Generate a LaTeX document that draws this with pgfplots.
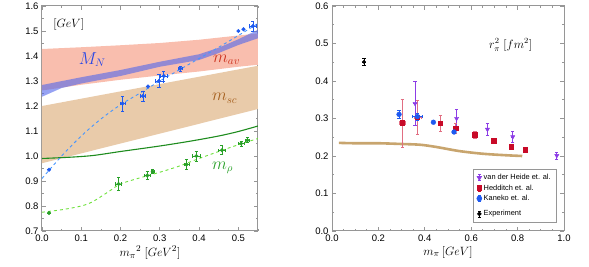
\documentclass[border=0pt]{standalone}
\usepackage{pgfplots}
\pgfplotsset{compat=1.18}
\usepackage{fontspec}
\setmainfont{Liberation Sans}
\definecolor{frame}{RGB}{150,150,150}
\definecolor{pinkband}{RGB}{249,190,174}
\definecolor{tanband}{RGB}{233,203,170}
\definecolor{nband}{RGB}{85,105,235}
\definecolor{gline}{RGB}{30,140,30}
\definecolor{gdash}{RGB}{110,225,60}
\definecolor{gpt}{RGB}{40,160,40}
\definecolor{bdash}{RGB}{70,150,255}
\definecolor{bpt}{RGB}{30,90,240}
\definecolor{mavc}{RGB}{205,50,30}
\definecolor{mscc}{RGB}{165,95,30}
\definecolor{mnc}{RGB}{40,70,230}
\definecolor{tancurve}{RGB}{200,165,110}
\definecolor{purp}{RGB}{140,60,230}
\definecolor{redp}{RGB}{200,10,40}
\definecolor{redbar}{RGB}{225,110,130}
\pgfplotsset{
  mstyle/.style={
    scale only axis,
    axis line style={frame, line width=1pt},
    tick style={frame, line width=0.8pt},
    tick align=inside,
    tick pos=both,
    major tick length=4pt,
    minor tick length=2.2pt,
    tick label style={font=\fontsize{9.5}{10}\selectfont},
    /pgf/number format/assume math mode=true,
    /pgf/number format/fixed,
    /pgf/number format/fixed zerofill,
    /pgf/number format/precision=1,
    clip=true,
  },
  ebar/.style={error bars/.cd, y dir=both, y explicit, x dir=both, x explicit,
     error mark options={rotate=90, mark size=1.6pt, line width=0.6pt},
     error bar style={line width=0.7pt}, /pgfplots/.cd},
}
\begin{document}
\begin{tikzpicture}[x=1pt,y=1pt]
\useasboundingbox (0,0) rectangle (589,267);
% ---------------- left axis ----------------
\begin{axis}[mstyle,
  at={(42pt,36pt)}, anchor=south west,
  width=216pt, height=225pt,
  xmin=0, xmax=0.55, ymin=0.7, ymax=1.6,
  xtick={0,0.1,0.2,0.3,0.4,0.5},
  minor xtick={0.05,0.15,0.25,0.35,0.45,0.55},
  ytick={0.7,0.8,0.9,1.0,1.1,1.2,1.3,1.4,1.5,1.6},
  minor ytick={0.75,0.85,0.95,1.05,1.15,1.25,1.35,1.45,1.55},
  xlabel={$m_\pi{}^2\;[GeV^2]$},
  xlabel style={font=\fontsize{12.5}{14}\selectfont, yshift=2pt},
]
% m_av band
\addplot[draw=none, fill=pinkband] coordinates {
 (0,1.428)(0.1,1.435)(0.2,1.443)(0.3,1.452)(0.4,1.465)(0.5,1.482)(0.55,1.490)
 (0.55,1.365)(0.5,1.357)(0.4,1.338)(0.3,1.322)(0.2,1.305)(0.1,1.285)(0,1.262)} -- cycle;
% m_sc band
\addplot[draw=none, fill=tanband] coordinates {
 (0,1.200)(0.55,1.361)(0.55,1.188)(0,0.971)} -- cycle;
% M_N band
\addplot[draw=none, fill=nband, fill opacity=0.62] coordinates {
 (0,1.284)(0.1,1.315)(0.2,1.344)(0.3,1.377)(0.4,1.407)(0.45,1.433)(0.5,1.467)(0.55,1.505)
 (0.55,1.471)(0.5,1.444)(0.45,1.412)(0.4,1.384)(0.3,1.357)(0.2,1.320)(0.1,1.290)(0.05,1.272)(0,1.237)} -- cycle;
% green solid line
\addplot[gline, line width=1.1pt, smooth] coordinates {
 (0,0.990)(0.07,0.995)(0.13,1.002)(0.2,1.018)(0.3,1.040)(0.38,1.060)(0.45,1.080)(0.5,1.098)(0.55,1.120)};
% blue dashed line
\addplot[bdash, dashed, line width=0.9pt, smooth] coordinates {
 (0,0.910)(0.05,1.000)(0.1,1.080)(0.15,1.148)(0.2,1.205)(0.25,1.252)(0.3,1.300)(0.35,1.345)(0.4,1.390)(0.45,1.435)(0.5,1.482)(0.55,1.530)};
% green dashed line
\addplot[gdash, dashed, line width=0.9pt, smooth] coordinates {
 (0,0.775)(0.05,0.785)(0.1,0.800)(0.13,0.818)(0.17,0.858)(0.2,0.888)(0.25,0.913)(0.3,0.935)(0.35,0.960)(0.4,0.990)(0.45,1.018)(0.5,1.045)(0.55,1.070)};
% blue points
\addplot[only marks, mark=*, mark size=1.8pt, color=bpt, ebar] coordinates {
 (0.018,0.945) +- (0,0)
 (0.205,1.210) +- (0.006,0.030)
 (0.257,1.240) +- (0.006,0.020)
 (0.270,1.278) +- (0,0)
 (0.298,1.300) +- (0.010,0.025)
 (0.310,1.320) +- (0.010,0.020)
 (0.352,1.350) +- (0.006,0.010)
 (0.500,1.500) +- (0,0)
 (0.513,1.507) +- (0,0)
 (0.537,1.520) +- (0.008,0.020)};
% green points
\addplot[only marks, mark=*, mark size=1.8pt, color=gpt, ebar] coordinates {
 (0.018,0.772) +- (0,0)
 (0.195,0.888) +- (0.008,0.025)
 (0.268,0.922) +- (0.008,0.015)
 (0.282,0.937) +- (0.004,0.008)
 (0.368,0.966) +- (0.006,0.020)
 (0.393,1.000) +- (0.010,0.020)
 (0.458,1.023) +- (0.010,0.018)
 (0.507,1.050) +- (0.008,0.010)
 (0.523,1.063) +- (0.006,0.010)};
\node[font=\fontsize{11.5}{13}\selectfont] at (axis cs:0.068,1.525) {$[GeV]$};
\node[text=mnc, font=\fontsize{16}{18}\selectfont] at (axis cs:0.128,1.385) {$M_N$};
\node[text=mavc, font=\fontsize{16}{18}\selectfont] at (axis cs:0.47,1.385) {$m_{av}$};
\node[text=mscc, font=\fontsize{16}{18}\selectfont] at (axis cs:0.465,1.232) {$m_{sc}$};
\node[text=gpt, font=\fontsize{16}{18}\selectfont] at (axis cs:0.46,0.952) {$m_\rho$};
\end{axis}
% ---------------- right axis ----------------
\begin{axis}[mstyle,
  at={(332pt,36pt)}, anchor=south west,
  width=232pt, height=225pt,
  xmin=0, xmax=1, ymin=0, ymax=0.6,
  xtick={0,0.2,0.4,0.6,0.8,1.0},
  minor xtick={0.05,0.1,0.15,0.25,0.3,0.35,0.45,0.5,0.55,0.65,0.7,0.75,0.85,0.9,0.95},
  ytick={0,0.1,0.2,0.3,0.4,0.5,0.6},
  minor ytick={0.05,0.15,0.25,0.35,0.45,0.55},
  xlabel={$m_\pi\,[GeV]$},
  xlabel style={font=\fontsize{12.5}{14}\selectfont, yshift=2pt},
  legend style={at={(0.97,0.037)}, anchor=south east, draw=frame, line width=0.8pt,
     font=\fontsize{7.4}{8.5}\selectfont, row sep=-0.5pt, inner xsep=4pt, inner ysep=3pt,
     cells={anchor=west}},
  legend cell align=left,
  legend image code/.code={
     \draw[#1,mark=none,line width=0.6pt] (0pt,-3pt)--(0pt,3pt);
     \draw[#1,mark=none,line width=0.6pt] (-1.3pt,3pt)--(1.3pt,3pt);
     \draw[#1,mark=none,line width=0.6pt] (-1.3pt,-3pt)--(1.3pt,-3pt);
     \draw[#1,only marks] plot coordinates {(0pt,0pt)};},
]
\addplot[tancurve, line width=2.6pt, smooth, forget plot] coordinates {
 (0.03,0.235)(0.1,0.234)(0.2,0.234)(0.3,0.232)(0.38,0.230)(0.45,0.224)(0.55,0.213)(0.65,0.206)(0.75,0.202)(0.82,0.200)};
% van der Heide
\addplot[only marks, mark=triangle*, mark options={rotate=180}, mark size=2.4pt, color=purp, ebar] coordinates {
 (0.358,0.340) +- (0,0.059)
 (0.537,0.300) +- (0,0.025)
 (0.670,0.271) +- (0,0.016)
 (0.779,0.251) +- (0,0.015)
 (0.969,0.201) +- (0,0.010)};
\addlegendentry{van der Heide et. al.}
% Hedditch
\addplot[only marks, mark=square*, mark size=2.3pt, color=redp, ebar,
   error bars/error bar style={line width=0.8pt, color=redbar}] coordinates {
 (0.303,0.288) +- (0.015,0.064)
 (0.368,0.303) +- (0.015,0.045)
 (0.466,0.287) +- (0,0.021)
 (0.533,0.274) +- (0,0.014)
 (0.616,0.256) +- (0,0.009)
 (0.697,0.240) +- (0,0.006)
 (0.772,0.225) +- (0,0.006)
 (0.833,0.216) +- (0,0.004)};
\addlegendentry{Hedditch et. al.}
% Kaneko
\addplot[only marks, mark=*, mark size=2.4pt, color=bpt, ebar] coordinates {
 (0.289,0.311) +- (0,0.010)
 (0.368,0.305) +- (0.020,0.010)
 (0.437,0.290) +- (0,0.004)
 (0.526,0.264) +- (0,0.004)};
\addlegendentry{Kaneko et. al.}
\addlegendimage{empty legend}
\addlegendentry{}
% Experiment
\addplot[only marks, mark=*, mark size=1.8pt, color=black, ebar] coordinates {
 (0.138,0.451) +- (0,0.010)};
\addlegendentry{Experiment}
\node[font=\fontsize{12}{13}\selectfont] at (axis cs:0.77,0.496) {$r_\pi^2\;[fm^2]$};
\end{axis}
\end{tikzpicture}
\end{document}
